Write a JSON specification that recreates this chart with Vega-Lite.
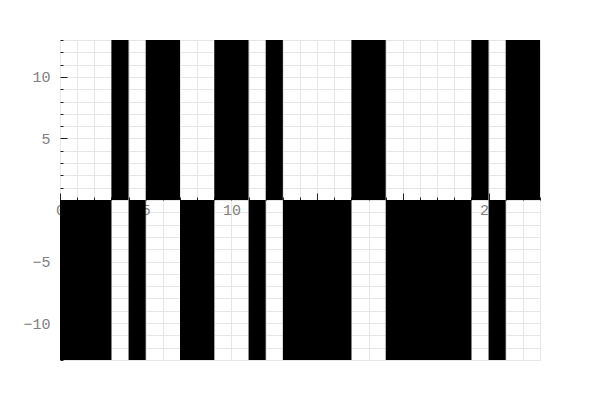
{
  "$schema": "https://vega.github.io/schema/vega-lite/v6.json",
  "width": 480,
  "height": 320,
  "autosize": "none",
  "padding": {"left": 60, "top": 40, "right": 60, "bottom": 40},
  "background": "white",
  "config": {
    "view": {"stroke": null},
    "axis": {
      "labelFont": "Liberation Mono",
      "labelFontSize": 15,
      "labelColor": "#808080",
      "gridColor": "#e6e6e6",
      "gridWidth": 1,
      "domain": false,
      "tickColor": "#222222",
      "tickWidth": 1,
      "zindex": 0,
      "title": null,
      "labelOverlap": false,
      "labelFlush": false
    }
  },
  "data": {
    "values": [
      {"x0": 0, "x1": 3, "y0": 0, "y1": -13},
      {"x0": 3, "x1": 4, "y0": 0, "y1": 13},
      {"x0": 4, "x1": 5, "y0": 0, "y1": -13},
      {"x0": 5, "x1": 7, "y0": 0, "y1": 13},
      {"x0": 7, "x1": 9, "y0": 0, "y1": -13},
      {"x0": 9, "x1": 11, "y0": 0, "y1": 13},
      {"x0": 11, "x1": 12, "y0": 0, "y1": -13},
      {"x0": 12, "x1": 13, "y0": 0, "y1": 13},
      {"x0": 13, "x1": 17, "y0": 0, "y1": -13},
      {"x0": 17, "x1": 19, "y0": 0, "y1": 13},
      {"x0": 19, "x1": 24, "y0": 0, "y1": -13},
      {"x0": 24, "x1": 25, "y0": 0, "y1": 13},
      {"x0": 25, "x1": 26, "y0": 0, "y1": -13},
      {"x0": 26, "x1": 28, "y0": 0, "y1": 13}
    ]
  },
  "mark": {"type": "rect", "color": "black"},
  "encoding": {
    "x": {
      "field": "x0",
      "type": "quantitative",
      "scale": {"domain": [0, 28], "nice": false, "zero": false},
      "axis": {
        "orient": "bottom",
        "offset": -160,
        "values": [0,1,2,3,4,5,6,7,8,9,10,11,12,13,14,15,16,17,18,19,20,21,22,23,24,25,26,27,28],
        "labelExpr": "datum.value % 5 === 0 ? datum.label : ''",
        "tickSize": {"condition": {"test": "datum.value % 5 === 0", "value": -7}, "value": -3},
        "labelPadding": 9,
        "grid": true
      }
    },
    "x2": {"field": "x1"},
    "y": {
      "field": "y0",
      "type": "quantitative",
      "scale": {"domain": [-13, 13], "nice": false, "zero": false},
      "axis": {
        "orient": "left",
        "values": [-13,-12,-11,-10,-9,-8,-7,-6,-5,-4,-3,-2,-1,0,1,2,3,4,5,6,7,8,9,10,11,12,13],
        "labelExpr": "datum.value % 5 === 0 && datum.value !== 0 ? datum.label : ''",
        "tickSize": {"condition": {"test": "datum.value % 5 === 0", "value": -7}, "value": -3},
        "labelPadding": 17,
        "grid": true
      }
    },
    "y2": {"field": "y1"}
  }
}
